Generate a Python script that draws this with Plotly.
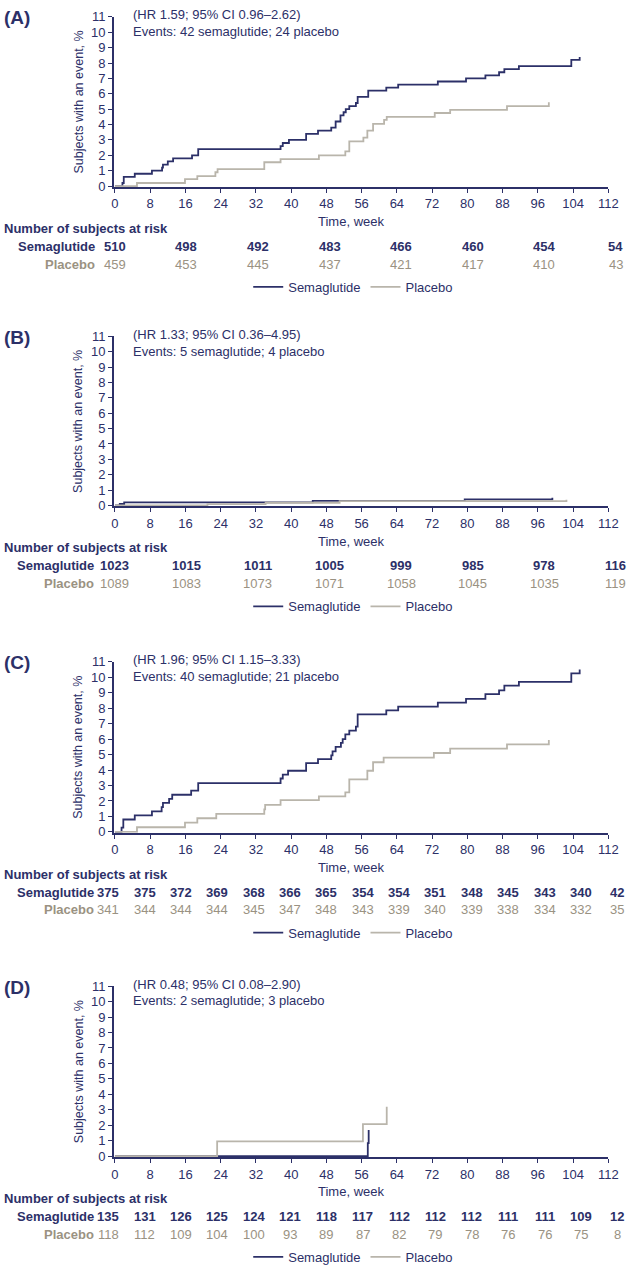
import plotly.graph_objects as go

# ---------------- data ----------------
A_sema_t = [0, 1.7, 2.0, 4.5, 8.4, 10.7, 10.9, 12.0, 13.2, 17.5, 18.9, 37.6, 38.1, 39.5, 43.4, 46.1, 49.1, 50.1,
            51.2, 51.9, 52.4, 53.2, 54.7, 55.1, 57.5, 61.6, 64.3, 73.3, 79.7, 84.1, 87.2, 88.4, 91.7, 103.6, 105.5]
A_sema_y = [0, 0.2, 0.6, 0.8, 1.0, 1.2, 1.4, 1.6, 1.8, 2.0, 2.4, 2.6, 2.8, 3.0, 3.4, 3.6, 3.8, 4.2,
            4.6, 4.8, 5.0, 5.2, 5.4, 5.8, 6.2, 6.4, 6.6, 6.8, 7.0, 7.2, 7.4, 7.6, 7.8, 8.2, 8.4]
A_plac_t = [0, 5.0, 15.9, 18.7, 22.8, 23.3, 33.9, 37.6, 46.3, 52.3, 53.2, 56.4, 57.3, 58.6, 61.1, 61.7, 72.6, 76.1, 89.0, 98.5]
A_plac_y = [0, 0.2, 0.45, 0.65, 0.9, 1.1, 1.55, 1.75, 2.0, 2.25, 2.9, 3.15, 3.6, 4.05, 4.3, 4.5, 4.75, 4.95, 5.2, 5.45]

B_sema_t = [0, 1.1, 2.1, 44.9, 79.4, 99.3]
B_sema_y = [0, 0.1, 0.2, 0.3, 0.4, 0.5]
B_plac_t = [0, 21.0, 34.2, 51.0, 102.5]
B_plac_y = [0, 0.09, 0.18, 0.28, 0.37]

C_sema_t = [0, 1.5, 1.9, 4.5, 8.4, 10.6, 10.9, 12.3, 13.0, 17.3, 18.9, 37.6, 38.1, 39.3, 43.4, 46.1, 49.1, 49.4,
            50.1, 51.3, 51.7, 52.3, 53.2, 54.7, 55.1, 61.6, 64.3, 73.3, 79.7, 84.1, 87.2, 88.4, 91.7, 103.6, 105.5]
C_sema_y = [0, 0.27, 0.8, 1.07, 1.33, 1.6, 1.87, 2.13, 2.4, 2.67, 3.15, 3.45, 3.7, 3.95, 4.45, 4.7, 4.95, 5.2,
            5.5, 5.75, 6.0, 6.3, 6.55, 6.8, 7.6, 7.85, 8.1, 8.35, 8.6, 8.9, 9.15, 9.45, 9.7, 10.25, 10.5]
C_plac_t = [0, 5.0, 15.9, 18.7, 23.0, 33.9, 34.1, 37.6, 46.3, 52.3, 53.2, 57.3, 58.6, 61.0, 72.4, 76.1, 89.0, 98.5]
C_plac_y = [0, 0.3, 0.6, 0.88, 1.17, 1.46, 1.75, 2.05, 2.3, 2.55, 3.4, 3.95, 4.5, 4.8, 5.1, 5.38, 5.66, 5.94]

D_sema_t = [0, 57.4, 57.6]
D_sema_y = [0, 0.85, 1.7]
D_plac_t = [0, 23.2, 56.3, 61.7]
D_plac_y = [0, 0.96, 2.08, 3.2]

weeks_16 = [0, 16, 32, 48, 64, 80, 96, 112]
weeks_8 = [0, 8, 16, 24, 32, 40, 48, 56, 64, 72, 80, 88, 96, 104, 112]
A_risk_sema = [510, 498, 492, 483, 466, 460, 454, 54]
A_risk_plac = [459, 453, 445, 437, 421, 417, 410, 43]
B_risk_sema = [1023, 1015, 1011, 1005, 999, 985, 978, 116]
B_risk_plac = [1089, 1083, 1073, 1071, 1058, 1045, 1035, 119]
C_risk_sema = [375, 375, 372, 369, 368, 366, 365, 354, 354, 351, 348, 345, 343, 340, 42]
C_risk_plac = [341, 344, 344, 344, 345, 347, 348, 343, 339, 340, 339, 338, 334, 332, 35]
D_risk_sema = [135, 131, 126, 125, 124, 121, 118, 117, 112, 112, 112, 111, 111, 109, 12]
D_risk_plac = [118, 112, 109, 104, 100, 93, 89, 87, 82, 79, 78, 76, 76, 75, 8]

panel_labels = ["(A)", "(B)", "(C)", "(D)"]
hr_texts = ["(HR 1.59; 95% CI 0.96\u20132.62)", "(HR 1.33; 95% CI 0.36\u20134.95)",
            "(HR 1.96; 95% CI 1.15\u20133.33)", "(HR 0.48; 95% CI 0.08\u20132.90)"]
event_texts = ["Events: 42 semaglutide; 24 placebo", "Events: 5 semaglutide; 4 placebo",
               "Events: 40 semaglutide; 21 placebo", "Events: 2 semaglutide; 3 placebo"]
x_ticks = [0, 8, 16, 24, 32, 40, 48, 56, 64, 72, 80, 88, 96, 104, 112]
y_ticks = list(range(0, 12))

# ---------------- style ----------------
W, H = 634, 1272
NAVY = "#2c3068"
GREY = "#b9b5ab"
GREY_TXT = "#9a9282"
FONT = "Liberation Sans, Arial, sans-serif"

def px(x):
    return x / W

def py(y):
    return 1 - y / H

panels = [
    dict(top=10, bot=182, st=A_sema_t, sy=A_sema_y, pt=A_plac_t, pyv=A_plac_y,
         wk=weeks_16, rs=A_risk_sema, rp=A_risk_plac, rx0=115, rk=4.56, lab_end=97),
    dict(top=333, bot=505, st=B_sema_t, sy=B_sema_y, pt=B_plac_t, pyv=B_plac_y,
         wk=weeks_16, rs=B_risk_sema, rp=B_risk_plac, rx0=115, rk=4.56, lab_end=96),
    dict(top=662, bot=835, st=C_sema_t, sy=C_sema_y, pt=C_plac_t, pyv=C_plac_y,
         wk=weeks_8, rs=C_risk_sema, rp=C_risk_plac, rx0=108.5, rk=4.63, lab_end=96),
    dict(top=990, bot=1163, st=D_sema_t, sy=D_sema_y, pt=D_plac_t, pyv=D_plac_y,
         wk=weeks_8, rs=D_risk_sema, rp=D_risk_plac, rx0=108.5, rk=4.63, lab_end=96),
]

fig = go.Figure()
annotations = []
layout_axes = {}

X0, X1 = 114, 618
for i, p in enumerate(panels):
    n = "" if i == 0 else str(i + 1)
    xa, ya = "x" + n, "y" + n
    leg = "legend" + n
    fig.add_trace(go.Scatter(x=p["st"], y=p["sy"], mode="lines", line=dict(color=NAVY, width=1.8, shape="hv"),
                             name="Semaglutide", xaxis=xa, yaxis=ya, legend=leg, showlegend=True))
    fig.add_trace(go.Scatter(x=p["pt"], y=p["pyv"], mode="lines", line=dict(color=GREY, width=1.8, shape="hv"),
                             name="Placebo", xaxis=xa, yaxis=ya, legend=leg, showlegend=True))

    layout_axes["xaxis" + n] = dict(domain=[px(X0), px(X1)], anchor=ya, range=[-0.25, 112],
                                    tickvals=x_ticks, showline=True, linecolor=NAVY, linewidth=1.5,
                                    ticks="outside", ticklen=4, tickwidth=1.2, tickcolor=NAVY,
                                    showgrid=False, zeroline=False,
                                    tickfont=dict(family=FONT, size=13, color=NAVY), fixedrange=True)
    layout_axes["yaxis" + n] = dict(domain=[py(p["bot"]), py(p["top"])], anchor=xa, range=[-0.06, 11],
                                    tickvals=y_ticks, showline=True, linecolor=NAVY, linewidth=1.5,
                                    ticks="outside", ticklen=4, tickwidth=1.2, tickcolor=NAVY,
                                    showgrid=False, zeroline=False,
                                    tickfont=dict(family=FONT, size=13, color=NAVY), fixedrange=True)
    layout_axes[leg] = dict(orientation="h", x=px(358), xanchor="center", y=py(p["bot"] + 101),
                            yanchor="middle", font=dict(family=FONT, size=13, color=NAVY),
                            bgcolor="rgba(0,0,0,0)", tracegroupgap=0, itemwidth=30)

    top, bot = p["top"], p["bot"]
    annotations.append(dict(text="<b>%s</b>" % panel_labels[i], x=px(0), y=py(top + 1), xanchor="left",
                            yanchor="middle", font=dict(family=FONT, size=19, color=NAVY)))
    annotations.append(dict(text=hr_texts[i], x=px(131), y=py(top - 2), xanchor="left", yanchor="middle",
                            font=dict(family=FONT, size=13, color=NAVY)))
    annotations.append(dict(text=event_texts[i], x=px(131), y=py(top + 15), xanchor="left", yanchor="middle",
                            font=dict(family=FONT, size=13, color=NAVY)))
    annotations.append(dict(text="Subjects with an event, %", x=px(78), y=py((top + bot) / 2), textangle=-90,
                            xanchor="center", yanchor="middle", font=dict(family=FONT, size=12.5, color=NAVY)))
    annotations.append(dict(text="Time, week", x=px(356), y=py(bot + 35), xanchor="center", yanchor="middle",
                            font=dict(family=FONT, size=13, color=NAVY)))
    annotations.append(dict(text="<b>Number of subjects at risk</b>", x=px(0), y=py(bot + 42), xanchor="left",
                            yanchor="middle", font=dict(family=FONT, size=13, color=NAVY)))
    annotations.append(dict(text="<b>Semaglutide</b>", x=px(p["lab_end"]), y=py(bot + 60), xanchor="right",
                            yanchor="middle", font=dict(family=FONT, size=13, color=NAVY)))
    annotations.append(dict(text="<b>Placebo</b>", x=px(p["lab_end"]), y=py(bot + 78), xanchor="right",
                            yanchor="middle", font=dict(family=FONT, size=13, color=GREY_TXT)))
    for w, vs, vp in zip(p["wk"], p["rs"], p["rp"]):
        xx = px(p["rx0"] + w * p["rk"])
        annotations.append(dict(text="<b>%d</b>" % vs, x=xx, y=py(bot + 60), xanchor="center", yanchor="middle",
                                font=dict(family=FONT, size=13, color=NAVY)))
        annotations.append(dict(text="%d" % vp, x=xx, y=py(bot + 78), xanchor="center", yanchor="middle",
                                font=dict(family=FONT, size=13, color=GREY_TXT)))

for a in annotations:
    a.update(xref="paper", yref="paper", showarrow=False)

fig.update_layout(width=W, height=H, margin=dict(l=0, r=0, t=0, b=0), paper_bgcolor="white",
                  plot_bgcolor="white", annotations=annotations, **layout_axes)

fig.write_html("out.html", config={"displayModeBar": False},
               post_script="document.body.style.margin='0';document.body.style.padding='0';"
                           "document.body.style.overflow='hidden';")
